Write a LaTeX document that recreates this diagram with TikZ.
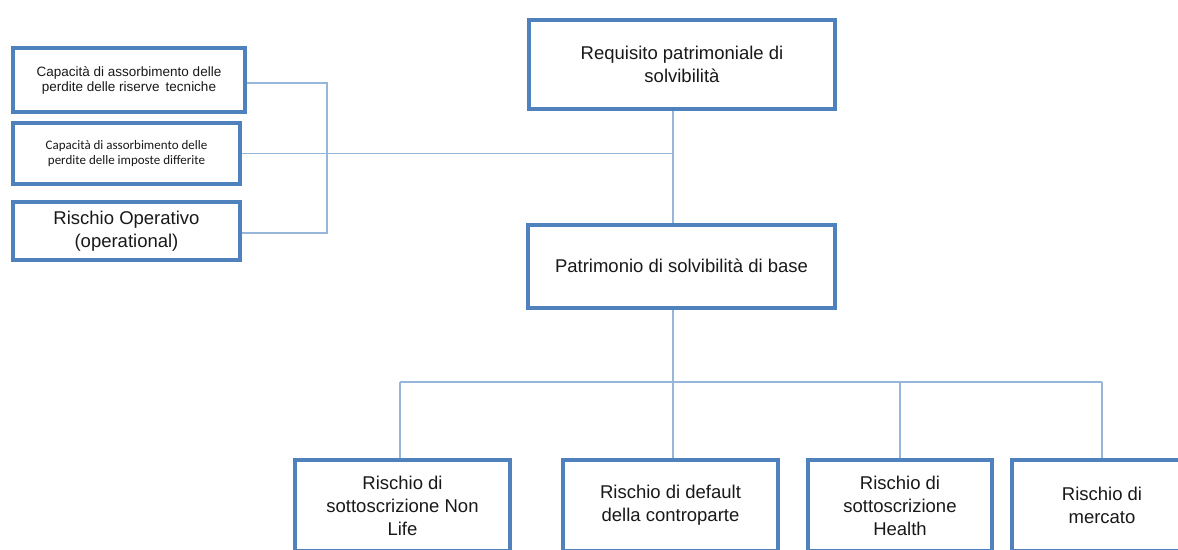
\documentclass[tikz,border=0pt]{standalone}
\usepackage{fontspec}
\setmainfont{Liberation Sans}
\newfontfamily\calfont{Carlito}
\definecolor{boxblue}{RGB}{79,129,189}
\definecolor{lineblue}{RGB}{150,182,218}
\begin{document}
\begin{tikzpicture}[x=1pt,y=-1pt,
  box/.style={draw=boxblue, line width=4pt, fill=white, align=center, inner sep=0pt, text=black!90},
  conn/.style={draw=lineblue, line width=1.4pt},
  big/.style={font=\fontsize{18.5}{23}\selectfont},
  small/.style={font=\fontsize{13.5}{15}\selectfont},
  cal/.style={font=\calfont\fontsize{13}{14.5}\selectfont}]
\useasboundingbox (0,0) rectangle (1178,549);
\clip (0,0) rectangle (1178,549);
\fill[white] (0,0) rectangle (1178,549);
\coordinate (v) at (673,382);
\coordinate (hl) at (400,382);
\coordinate (hr) at (1102,382);
\coordinate (lx) at (327,83);
\coordinate (ly) at (327,233);
\node[box, big, minimum width=306, minimum height=89] (req) at (682,64) {Requisito patrimoniale di\\solvibilità};
\node[box, big, minimum width=307, minimum height=83] (pat) at (681.5,266) {Patrimonio di solvibilità di base};
\node[box, small, minimum width=232, minimum height=64] (c1) at (129,80) {Capacità di assorbimento delle\\perdite delle riserve\, tecniche};
\node[box, cal, minimum width=227, minimum height=61] (c2) at (126.5,153.5) {Capacità di assorbimento delle\\perdite delle imposte differite};
\node[box, big, minimum width=227, minimum height=58] (c3) at (126.5,231) {Rischio Operativo\\(operational)};
\node[box, big, minimum width=215, minimum height=91] (b1) at (402.5,505.5) {Rischio di\\sottoscrizione Non\\Life};
\node[box, big, minimum width=215, minimum height=91] (b2) at (670.5,505.5) {Rischio di default\\della controparte};
\node[box, big, minimum width=184, minimum height=91] (b3) at (900,505.5) {Rischio di\\sottoscrizione\\Health};
\node[box, big, minimum width=180, minimum height=91] (b4) at (1102,505.5) {Rischio di\\mercato};
\draw[conn] (req.south -| v) -- (pat.north -| v);
\draw[conn] (c2.east) -- (c2.east -| v);
\draw[conn] (c1.east |- lx) -- (lx) -- (ly) -- (c3.east |- ly);
\draw[conn] (pat.south -| v) -- (v);
\draw[conn] (hl) -- (hr);
\draw[conn] (hl) -- (b1.north -| hl);
\draw[conn] (v) -- (b2.north -| v);
\draw[conn] (hl -| b3) -- (b3.north);
\draw[conn] (hr) -- (b4.north -| hr);
\end{tikzpicture}
\end{document}
